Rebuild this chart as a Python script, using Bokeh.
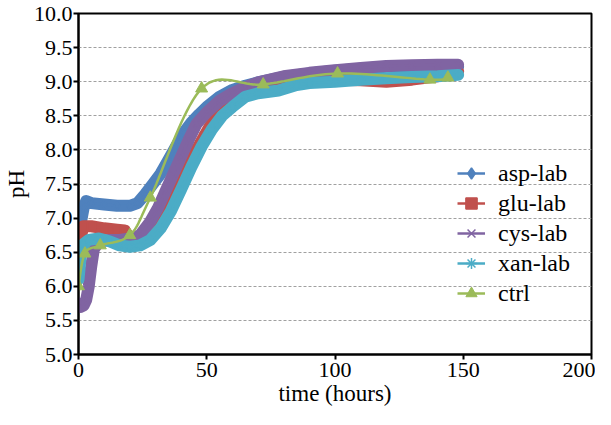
import numpy as np
from bokeh.plotting import figure
from bokeh.models import Range1d, FixedTicker, NumeralTickFormatter, Legend, LegendItem
from bokeh.embed import file_html
from bokeh.resources import INLINE

# ---- data ----
asp_t = [0, 1, 2, 3, 5, 10, 15, 20, 23, 26, 29, 32, 35, 38, 41, 44, 47, 50, 55, 60, 65, 70, 80, 90, 100, 110, 120, 130, 140, 148]
asp_ph = [6.3, 6.95, 7.15, 7.25, 7.22, 7.2, 7.18, 7.18, 7.22, 7.35, 7.5, 7.65, 7.85, 8.05, 8.25, 8.4, 8.52, 8.63, 8.78, 8.88, 8.94, 8.99, 9.07, 9.12, 9.16, 9.19, 9.22, 9.23, 9.23, 9.22]

glu_t = [0, 1, 2, 5, 10, 15, 18, 20, 22, 25, 28, 31, 34, 37, 40, 43, 46, 49, 52, 56, 60, 65, 70, 80, 90, 100, 110, 120, 130, 140, 148]
glu_ph = [6.2, 6.75, 6.88, 6.88, 6.85, 6.83, 6.82, 6.7, 6.6, 6.65, 6.8, 6.95, 7.1, 7.3, 7.5, 7.75, 8.0, 8.2, 8.4, 8.6, 8.75, 8.88, 8.95, 9.0, 9.02, 9.03, 9.02, 9.0, 9.03, 9.08, 9.15]

cys_t = [0, 1, 2, 3, 4, 5, 6, 8, 12, 16, 20, 24, 28, 31, 34, 37, 40, 43, 46, 50, 55, 60, 65, 70, 80, 90, 100, 110, 120, 130, 140, 148]
cys_ph = [5.75, 5.7, 5.72, 5.8, 6.0, 6.3, 6.55, 6.65, 6.68, 6.68, 6.7, 6.75, 6.95, 7.15, 7.4, 7.65, 7.9, 8.15, 8.38, 8.55, 8.72, 8.83, 8.92, 8.99, 9.08, 9.13, 9.17, 9.2, 9.23, 9.24, 9.25, 9.25]

xan_t = [0, 0.5, 1, 2, 4, 8, 12, 16, 20, 24, 28, 32, 36, 40, 44, 48, 52, 56, 60, 65, 70, 78, 85, 90, 100, 110, 120, 130, 140, 148]
xan_ph = [6.1, 6.3, 6.5, 6.62, 6.68, 6.7, 6.66, 6.6, 6.58, 6.6, 6.68, 6.85, 7.1, 7.42, 7.75, 8.05, 8.3, 8.5, 8.63, 8.78, 8.83, 8.87, 8.95, 8.98, 9.0, 9.03, 9.05, 9.07, 9.08, 9.1]

ctrl_t = [0, 2.5, 8.5, 20, 28, 48, 72, 101, 137, 144]
ctrl_ph = [6.0, 6.48, 6.6, 6.75, 7.3, 8.9, 8.96, 9.12, 9.03, 9.06]

x_ticks = [0, 50, 100, 150, 200]
y_ticks = [5.0, 5.5, 6.0, 6.5, 7.0, 7.5, 8.0, 8.5, 9.0, 9.5, 10.0]

FONT = "'Liberation Serif', serif"

p = figure(width=595, height=409, output_backend="svg", toolbar_location=None,
           x_range=Range1d(0, 200), y_range=Range1d(5, 10),
           min_border_left=75, min_border_right=4, min_border_top=13, min_border_bottom=55)
p.background_fill_color = "white"
p.border_fill_color = "white"
p.outline_line_color = "black"
p.outline_line_width = 2
p.xgrid.grid_line_color = None
p.ygrid.grid_line_color = "#a0a0a0"
p.ygrid.grid_line_dash = "3 2"
p.ygrid.grid_line_width = 1

for ax in (p.xaxis[0], p.yaxis[0]):
    ax.axis_line_color = "black"
    ax.axis_line_width = 2
    ax.major_tick_line_color = "black"
    ax.major_tick_line_width = 2
    ax.major_tick_out = 5
    ax.major_tick_in = 0
    ax.minor_tick_line_color = None
    ax.major_label_text_font = FONT
    ax.major_label_text_font_size = "22px"
    ax.major_label_text_color = "black"
    ax.axis_label_text_font = FONT
    ax.axis_label_text_font_size = "23px"
    ax.axis_label_text_font_style = "normal"
    ax.axis_label_text_color = "black"

p.xaxis.ticker = FixedTicker(ticks=x_ticks)
p.yaxis.ticker = FixedTicker(ticks=y_ticks)
p.yaxis.formatter = NumeralTickFormatter(format="0.0")
p.xaxis.axis_label = "time (hours)"
p.yaxis.axis_label = "pH"
p.xaxis.major_label_standoff = 3
p.yaxis.major_label_standoff = 1
p.xaxis.axis_label_standoff = 1
p.yaxis.axis_label_standoff = 2

series = [
    ("asp-lab", asp_t, asp_ph, "#4F81BD", "diamond", 9),
    ("glu-lab", glu_t, glu_ph, "#C0504D", "square", 8),
    ("cys-lab", cys_t, cys_ph, "#8064A2", "x", 9),
    ("xan-lab", xan_t, xan_ph, "#4BACC6", "asterisk", 9),
]

items = []
for name, t, ph, col, mk, sz in series:
    p.line(t, ph, line_color=col, line_width=12, line_join="round", line_cap="round")
    lr = p.line(t, ph, line_color=col, line_width=2.5)
    sr = p.scatter(t, ph, marker=mk, size=sz, line_color=col, fill_color=col, line_width=1.5)
    items.append(LegendItem(label=name, renderers=[lr, sr]))


def smooth(xs, ys, n=20):
    # Catmull-Rom curve through the data points (like a "smoothed line" style)
    X = np.asarray(xs, float) * 2.545
    Y = np.asarray(ys, float) * 69.6
    P = np.column_stack([X, Y])
    P = np.vstack([P[0], P, P[-1]])
    out = []
    for i in range(1, len(P) - 2):
        p0, p1, p2, p3 = P[i - 1], P[i], P[i + 1], P[i + 2]
        for s in np.linspace(0, 1, n, endpoint=False):
            s2, s3 = s * s, s * s * s
            pt = 0.5 * ((2 * p1) + (-p0 + p2) * s + (2 * p0 - 5 * p1 + 4 * p2 - p3) * s2 + (-p0 + 3 * p1 - 3 * p2 + p3) * s3)
            out.append(pt)
    out.append(P[-2])
    out = np.array(out)
    return out[:, 0] / 2.545, out[:, 1] / 69.6


cx, cy = smooth(ctrl_t, ctrl_ph)
cl = p.line(cx, cy, line_color="#9BBB59", line_width=2.5)
cs = p.scatter(ctrl_t, ctrl_ph, marker="triangle", size=12, line_color="#9BBB59", fill_color="#9BBB59")
items.append(LegendItem(label="ctrl", renderers=[cl, cs]))

legend = Legend(items=items, location=(379, 46))
legend.background_fill_alpha = 0
legend.border_line_color = None
legend.label_text_font = FONT
legend.label_text_font_size = "24px"
legend.label_text_color = "black"
legend.glyph_width = 28
legend.glyph_height = 30
legend.label_height = 30
legend.spacing = 0
legend.padding = 0
legend.margin = 0
legend.label_standoff = 13
p.add_layout(legend)

open("out.html", "w").write(file_html(p, INLINE))
